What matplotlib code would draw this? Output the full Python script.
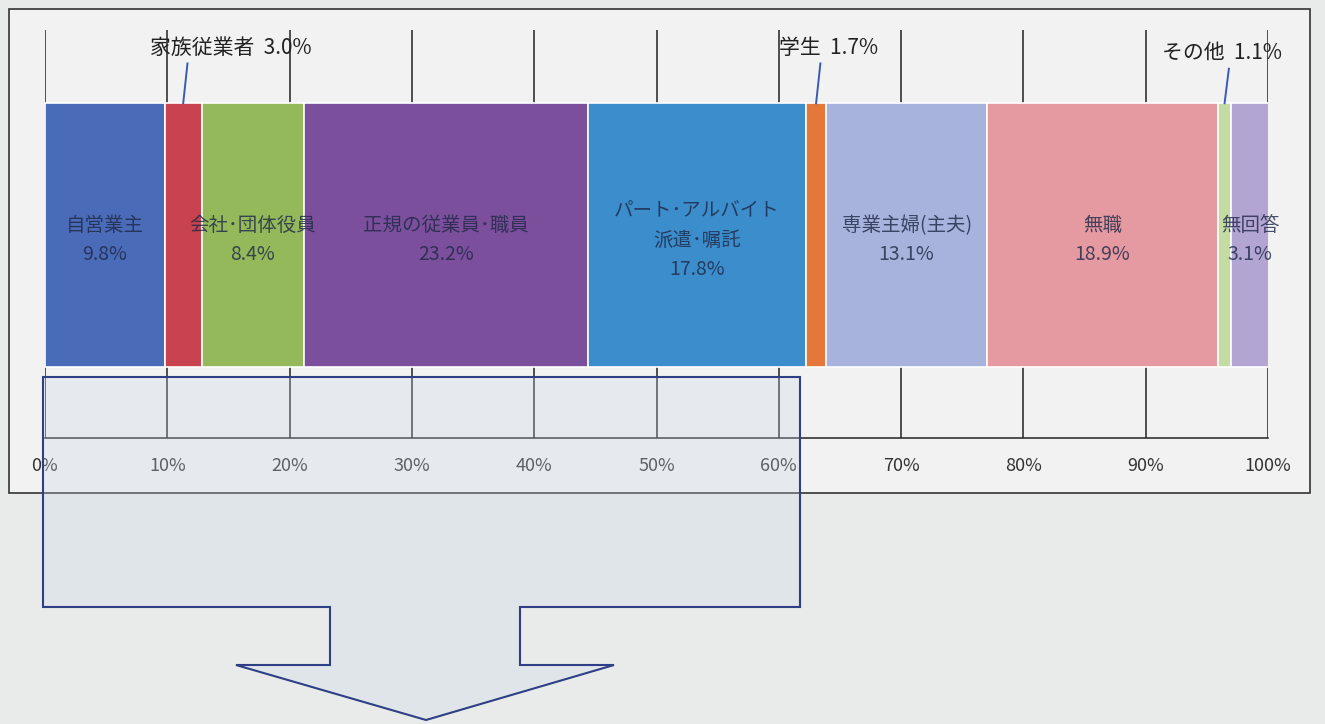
import matplotlib.pyplot as plt
from matplotlib.patches import Polygon, Rectangle

plt.rcParams['font.family'] = ['Noto Sans CJK JP', 'DejaVu Sans']

# 回答者の職業構成 (%)
categories = ["自営業主", "家族従業者", "会社･団体役員", "正規の従業員･職員",
              "パート･アルバイト\n派遣･嘱託", "学生", "専業主婦(主夫)", "無職",
              "その他", "無回答"]
values = [9.8, 3.0, 8.4, 23.2, 17.8, 1.7, 13.1, 18.9, 1.1, 3.1]
colors = ["#4a6bb8", "#c8434f", "#94b95b", "#7b4f9b", "#3b8dcb", "#e5773b",
          "#a7b3dc", "#e59aa1", "#c4dca2", "#b2a5d4"]
# 細い区分は上に引き出し線で表示
callouts = {"家族従業者": "家族従業者  3.0%", "学生": "学生  1.7%", "その他": "その他  1.1%"}
tick_vals = list(range(0, 101, 10))
tick_labels = [f"{t}%" for t in tick_vals]

W, H = 1325, 724
fig = plt.figure(figsize=(W / 100, H / 100), dpi=100)
fig.patch.set_facecolor("#e9ebea")

def fx(px):
    return px / W

def fy(py):
    return 1 - py / H

# 外枠
fig.patches.append(Rectangle((fx(9), fy(493)), fx(1310) - fx(9), fy(9) - fy(493),
                             transform=fig.transFigure, facecolor="#f1f2f1",
                             edgecolor="#333333", linewidth=1.2, zorder=-1))

ax = fig.add_axes([fx(45), fy(438), fx(1268) - fx(45), fy(30) - fy(438)])
ax.set_zorder(1)
ax.set_facecolor("none")
ax.set_xlim(0, 100)
ax.set_ylim(0, 1)

for t in tick_vals:
    ax.axvline(t, color="#222222", linewidth=1.1, zorder=1)

left = 0
bar_y, bar_h = 0.497, 0.647
top = bar_y + bar_h / 2
for name, v, c in zip(categories, values, colors):
    ax.barh(bar_y, v, left=left, height=bar_h, color=c, edgecolor="white",
            linewidth=1.2, zorder=2)
    mid = left + v / 2
    if name in callouts:
        dx = 3.9 if name == "家族従業者" else (1.0 if name == "学生" else -0.2)
        ty = 0.943 if name == "その他" else 0.957
        ly = 0.905 if name == "その他" else 0.918
        ax.plot([mid, mid + 0.35], [top, ly], color="#3a5ab5", lw=1.4, zorder=4)
        ax.text(mid + dx, ty, callouts[name], ha="center", va="center",
                fontsize=15, color="#222222", zorder=4)
    else:
        ax.text(mid, 0.485, f"{name}\n{v:.1f}%", ha="center", va="center",
                fontsize=14, linespacing=1.5, color="#1f2847", alpha=0.8, zorder=3)
    left += v

ax.set_xticks(tick_vals)
ax.set_xticklabels(tick_labels, fontsize=13, color="#333333")
ax.tick_params(axis="x", length=0, pad=14)
ax.set_yticks([])
for s in ["top", "left", "right"]:
    ax.spines[s].set_visible(False)
ax.spines["bottom"].set_color("#222222")
ax.spines["bottom"].set_linewidth(1.1)

# 下向きの矢印図形
pts = [(43, 377), (800, 377), (800, 607), (520, 607), (520, 665), (614, 665),
       (426, 720), (236, 665), (330, 665), (330, 607), (43, 607)]
fig.patches.append(Polygon([(fx(x), fy(y)) for x, y in pts], closed=True,
                           transform=fig.transFigure, facecolor="#ccd7ea",
                           alpha=0.28, edgecolor="none", zorder=5))
fig.patches.append(Polygon([(fx(x), fy(y)) for x, y in pts], closed=True,
                           transform=fig.transFigure, facecolor="none",
                           edgecolor="#2e3f85", linewidth=1.5, zorder=6))

fig.savefig("out.png", dpi=100, facecolor=fig.get_facecolor())
